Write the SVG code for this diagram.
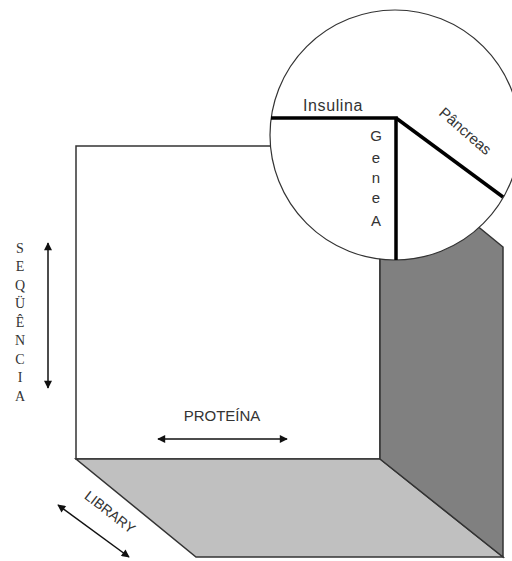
<svg xmlns="http://www.w3.org/2000/svg" width="512" height="561" viewBox="0 0 512 561">
  <defs>
    <marker id="ah" viewBox="0 0 10 10" refX="9" refY="5" markerWidth="10" markerHeight="8" markerUnits="userSpaceOnUse" orient="auto-start-reverse">
      <path d="M0,0 L10,5 L0,10 Z" fill="#111"/>
    </marker>
  </defs>
  <style>
    .edge { stroke: #333; stroke-width: 1.5; stroke-linejoin: miter; }
    .arrow { stroke: #111; stroke-width: 1.5; fill: none; marker-start: url(#ah); marker-end: url(#ah); }
    .sans { font-family: "Liberation Sans", Arial, sans-serif; fill: #333; }
    .serif { font-family: "Liberation Serif", "Times New Roman", serif; fill: #333; font-size: 14px; text-anchor: middle; }
    .spoke { stroke: #000; stroke-width: 3.5; fill: none; }
  </style>
  <rect width="512" height="561" fill="#fff"/>

  <!-- box: back wall, floor, side wall -->
  <g id="box">
    <rect class="edge" x="76" y="146" width="304" height="313" fill="#fff"/>
    <polygon id="floor" class="edge" points="76,459 380,459 503,557 196,557" fill="#c0c0c0"/>
    <polygon id="wall" class="edge" points="380,240 470,220 503,247 503,557 380,459" fill="#808080"/>
  </g>

  <!-- magnifier -->
  <g id="lens">
    <circle cx="395" cy="135" r="125" fill="#fff" stroke="#333" stroke-width="1.2"/>
    <polyline class="spoke" points="271,118 396,118 396,260"/>
    <line class="spoke" x1="396" y1="118" x2="503" y2="197"/>
    <text class="sans" x="333" y="111" font-size="16" text-anchor="middle" letter-spacing="0.6">Insulina</text>
    <text class="sans" x="462" y="135" font-size="15" text-anchor="middle" transform="rotate(41 462 135)">Pâncreas</text>
    <g class="sans" font-size="15" text-anchor="middle">
      <text x="376" y="141">G</text>
      <text x="376" y="163">e</text>
      <text x="376" y="183">n</text>
      <text x="376" y="203">e</text>
      <text x="376" y="226">A</text>
    </g>
  </g>

  <!-- axis labels -->
  <g id="sequencia">
    <text class="serif" x="20" y="253">S</text>
    <text class="serif" x="20" y="271">E</text>
    <text class="serif" x="20" y="290">Q</text>
    <text class="serif" x="20" y="308">Ü</text>
    <text class="serif" x="20" y="327">Ê</text>
    <text class="serif" x="20" y="345">N</text>
    <text class="serif" x="20" y="364">C</text>
    <text class="serif" x="20" y="382">I</text>
    <text class="serif" x="20" y="401">A</text>
  </g>
  <g id="proteina">
    <text class="sans" x="222" y="421" font-size="15" text-anchor="middle">PROTEÍNA</text>
  </g>
  <g id="library">
    <text class="sans" x="107" y="516" font-size="14" text-anchor="middle" transform="rotate(38 107 516)">LIBRARY</text>
  </g>

  <!-- axis arrows -->
  <g id="connectors">
    <line class="arrow" x1="48" y1="243" x2="48" y2="388"/>
    <line class="arrow" x1="158" y1="439" x2="287" y2="439"/>
    <line class="arrow" x1="58" y1="505" x2="129" y2="557"/>
  </g>
</svg>
